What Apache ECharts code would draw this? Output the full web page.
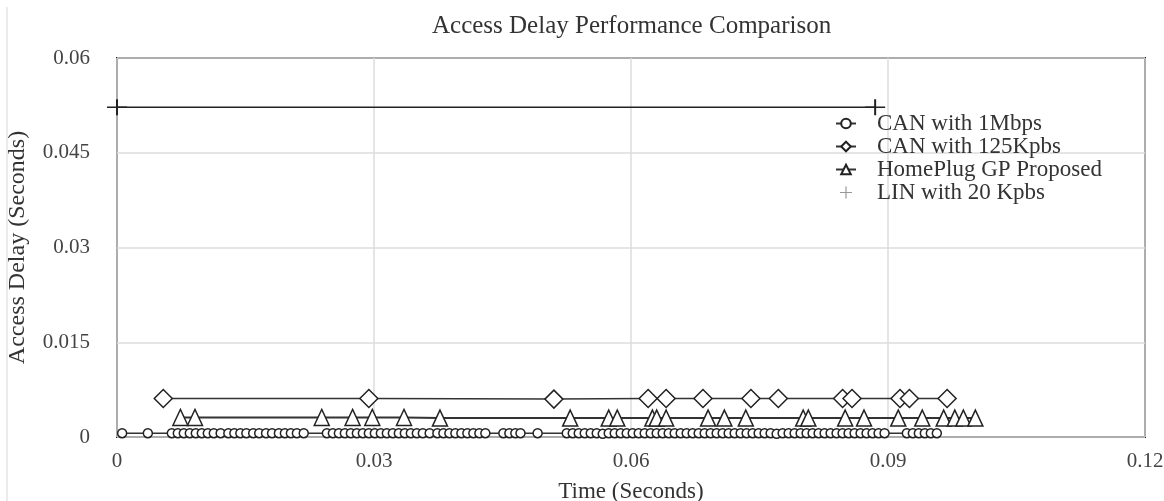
<!DOCTYPE html>
<html>
<head>
<meta charset="utf-8">
<script src="https://cdn.jsdelivr.net/npm/echarts@6/dist/echarts.min.js"></script>
<style>html,body{margin:0;padding:0;background:#fff;}#c{width:1164px;height:501px;}</style>
</head>
<body>
<div id="c"></div>
<script>
var titleText = 'Access Delay Performance Comparison';
var xName = 'Time (Seconds)';
var yName = 'Access Delay (Seconds)';
var seriesNames = ['CAN with 1Mbps', 'CAN with 125Kpbs', 'HomePlug GP Proposed', 'LIN with 20 Kpbs'];

var can1Times = [0.0006,0.0036,0.0064,0.0071,0.0078,0.0085,0.0092,0.0099,0.0106,0.0113,0.0121,0.0130,0.0137,0.0144,0.0151,0.0159,0.0166,0.0174,0.0181,0.0189,0.0196,0.0203,0.0210,0.0218,
  0.0245,0.0252,0.0259,0.0266,0.0273,0.0280,0.0287,0.0294,0.0301,0.0308,0.0315,0.0322,0.0329,0.0336,0.0343,0.0350,0.0357,0.0365,0.0374,0.0381,0.0388,0.0395,0.0402,0.0409,0.0416,0.0423,0.0430,
  0.0451,0.0458,0.0465,0.0471,0.0491,
  0.0525,0.0532,0.0539,0.0546,0.0553,0.0560,0.0567,0.0574,0.0581,0.0588,0.0595,0.0602,0.0609,0.0616,0.0623,0.0630,0.0637,0.0644,0.0651,0.0658,0.0665,0.0672,0.0679,0.0686,0.0693,0.0700,0.0707,0.0714,0.0721,0.0728,0.0735,0.0742,0.0749,0.0756,0.0763,0.0770,0.0777,0.0784,0.0791,0.0798,0.0805,0.0812,0.0819,0.0826,0.0833,0.0840,0.0847,0.0854,0.0861,0.0868,0.0875,0.0882,0.0889,0.0896,
  0.0922,0.0929,0.0936,0.0943,0.0950,0.0957];
var can1Delays = [0.0006,0.0006,0.0006,0.0006,0.0006,0.0006,0.0006,0.0006,0.0006,0.0006,0.0006,0.0006,0.0006,0.0006,0.0006,0.0006,0.0006,0.0006,0.0006,0.0006,0.0006,0.0006,0.0006,0.0006,
  0.0006,0.0006,0.0006,0.0006,0.0006,0.0006,0.0006,0.0006,0.0006,0.0006,0.0006,0.0006,0.0006,0.0006,0.0006,0.0006,0.0006,0.0006,0.0006,0.0006,0.0006,0.0006,0.0006,0.0006,0.0006,0.0006,0.0006,
  0.0006,0.0006,0.0006,0.0006,0.0006,
  0.0006,0.0006,0.0006,0.0006,0.0006,0.0006,0.0005,0.0006,0.0006,0.0006,0.0006,0.0006,0.0006,0.0006,0.0006,0.0006,0.0006,0.0006,0.0006,0.0006,0.0006,0.0006,0.0006,0.0006,0.0006,0.0006,0.0006,0.0006,0.0006,0.0006,0.0006,0.0006,0.0006,0.0006,0.0006,0.0005,0.0006,0.0006,0.0006,0.0006,0.0006,0.0006,0.0006,0.0006,0.0006,0.0006,0.0006,0.0006,0.0006,0.0006,0.0006,0.0006,0.0006,0.0006,
  0.0006,0.0006,0.0006,0.0006,0.0006,0.0006];

var can125Times = [0.0054,0.0294,0.0510,0.0620,0.0641,0.0684,0.0740,0.0772,0.0847,0.0858,0.0914,0.0925,0.0969];
var can125Delays = [0.0061,0.0061,0.0060,0.0061,0.0061,0.0061,0.0061,0.0061,0.0061,0.0061,0.0061,0.0061,0.0061];

var hpTimes = [0.0074,0.0091,0.0239,0.0275,0.0298,0.0335,0.0377,0.0529,0.0574,0.0584,0.0625,0.0630,0.0641,0.0690,0.0709,0.0734,0.0801,0.0807,0.0850,0.0872,0.0912,0.0940,0.0965,0.0978,0.0988,0.1002];
var hpDelays = [0.0031,0.0031,0.0031,0.0031,0.0031,0.0031,0.0030,0.0030,0.0030,0.0030,0.0030,0.0030,0.0030,0.0030,0.0030,0.0030,0.0030,0.0030,0.0030,0.0030,0.0030,0.0030,0.0030,0.0030,0.0030,0.0030];

var linTimes = [0, 0.0885];
var linDelays = [0.0522, 0.0522];

var xTicks = [0, 0.03, 0.06, 0.09, 0.12];
var yTicks = [0, 0.015, 0.03, 0.045, 0.06];

function pairs(xs, ys) { return xs.map(function (x, i) { return [x, ys[i]]; }); }

var plusPath = 'path://M9,0h2v9h9v2h-9v9h-2v-9h-9v-2h9z';
var font = 'Liberation Serif';
var lineCol = '#333';
var mk = { color: '#fff', borderColor: '#222', borderWidth: 1.5 };

var chart = echarts.init(document.getElementById('c'));
chart.setOption({
  animation: false,
  backgroundColor: '#fff',
  title: {
    text: titleText, left: 427, top: 9,
    textStyle: { fontFamily: font, fontSize: 25, fontWeight: 'normal', color: '#333' }
  },
  grid: { left: 117, top: 58, right: 19, bottom: 64, outerBoundsMode: 'none', containLabel: false, show: true, borderColor: '#222', borderWidth: 2, backgroundColor: 'transparent' },
  legend: {
    orient: 'vertical', left: 830, top: 107, itemGap: 0, itemWidth: 20, itemHeight: 12,
    selectedMode: false, backgroundColor: 'transparent',
    textStyle: { fontFamily: font, fontSize: 23, color: '#333', lineHeight: 20, padding: [0, 0, 0, 16] },
    data: [
      { name: seriesNames[0] },
      { name: seriesNames[1] },
      { name: seriesNames[2] },
      { name: seriesNames[3], icon: plusPath, itemStyle: { color: '#999', borderWidth: 0 } }
    ]
  },
  xAxis: {
    type: 'value', min: xTicks[0], max: xTicks[xTicks.length - 1], interval: 0.03,
    name: xName, nameLocation: 'middle', nameGap: 43,
    nameTextStyle: { fontFamily: font, fontSize: 23, color: '#333' },
    axisLine: { show: false }, axisTick: { show: false },
    axisLabel: { fontFamily: font, fontSize: 21, color: '#444', margin: 14 },
    splitLine: { show: true, lineStyle: { color: '#ddd', width: 1.5 } }
  },
  yAxis: {
    type: 'value', min: yTicks[0], max: yTicks[yTicks.length - 1], interval: 0.015,
    name: yName, nameLocation: 'middle', nameGap: 87,
    nameTextStyle: { fontFamily: font, fontSize: 24, color: '#333' },
    axisLine: { show: false }, axisTick: { show: false },
    axisLabel: { fontFamily: font, fontSize: 21, color: '#444', margin: 27 },
    splitLine: { show: true, lineStyle: { color: '#ddd', width: 1.5 } }
  },
  graphic: [
    { type: 'line', shape: { x1: 7, y1: 7, x2: 7, y2: 501 }, style: { stroke: '#e4e4e4', lineWidth: 1.5 }, silent: true }
  ],
  series: [
    {
      name: seriesNames[0], type: 'line', data: pairs(can1Times, can1Delays),
      symbol: 'circle', symbolSize: 9, showAllSymbol: true,
      lineStyle: { color: lineCol, width: 1.5 }, itemStyle: mk, z: 4
    },
    {
      name: seriesNames[1], type: 'line', data: pairs(can125Times, can125Delays),
      symbol: 'diamond', symbolSize: 18, showAllSymbol: true,
      lineStyle: { color: lineCol, width: 1.5 }, itemStyle: mk, z: 3
    },
    {
      name: seriesNames[2], type: 'line', data: pairs(hpTimes, hpDelays),
      symbol: 'triangle', symbolSize: [15, 16], showAllSymbol: true,
      lineStyle: { color: lineCol, width: 2 }, itemStyle: mk, z: 3
    },
    {
      name: seriesNames[3], type: 'line', data: pairs(linTimes, linDelays),
      symbol: plusPath, symbolSize: [20, 16], showAllSymbol: true,
      lineStyle: { color: '#222', width: 1.5 }, itemStyle: { color: '#222', borderWidth: 0 }, z: 3
    }
  ]
});
</script>
</body>
</html>
